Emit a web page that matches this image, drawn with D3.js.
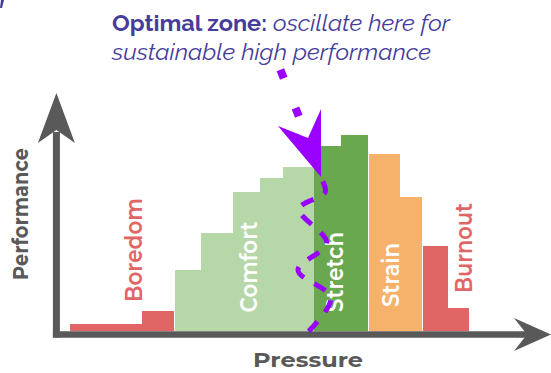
<!DOCTYPE html>
<html>
<head>
<meta charset="utf-8">
<script src="https://cdn.jsdelivr.net/npm/d3@7"></script>
<style>
  html, body { margin: 0; padding: 0; background: #fff; }
  svg { display: block; }
</style>
</head>
<body>
<svg id="chart" width="551" height="373"></svg>
<script>
// ---------------- DATA ----------------
const zones = ["Boredom","Boredom","Comfort","Comfort","Comfort","Comfort","Comfort",
               "Stretch","Stretch","Strain","Strain","Burnout","Burnout"];
// pressure boundaries of the steps (n+1 edges)
const pressureEdges = [0, 18, 26.25, 32.75, 40.75, 47.5, 53.25, 61, 67.75, 74.75, 82.5, 88.25, 94.5, 99.75];
// performance level of each step
const performance = [3.5, 10, 30.5, 49, 69.5, 76.5, 82, 92.5, 98, 88.5, 67, 42.5, 11.5];

const zoneNames = ["Boredom", "Comfort", "Stretch", "Strain", "Burnout"];
const zoneColors = ["#e06666", "#b6d7a8", "#6aa84f", "#f6b26b", "#e06666"];

const axisTitles = ["Pressure", "Performance"];
const titleBold = "Optimal zone:";
const titleItalic1 = "oscillate here for";
const titleItalic2 = "sustainable high performance";

// annotation: dotted lead-in, arrowhead, oscillating dashed path (pressure, performance units)
const leadIn = [[52.6, 130.6], [58.75, 99.5]];
const arrowHead = [[62.75, 77], [52, 102.5], [59.5, 96.5], [62.75, 111]];
const oscillation = [[62.75, 76.5], [63.8, 69.5], [57.3, 61], [64.2, 44], [57, 30.5], [65.2, 16.5], [58.75, -2]];

// ---------------- LAYOUT ----------------
const svg = d3.select("#chart");
const x = d3.scaleLinear().domain([0, 100]).range([70, 470]);
const y = d3.scaleLinear().domain([0, 100]).range([331, 131]);
const gray = "#595959";
const purple = "#9900ff";
const titleColor = "#463c9c";
const labelFont = "Montserrat, 'Open Sans', 'DejaVu Sans', sans-serif";

const colorOf = d3.scaleOrdinal().domain(zoneNames).range(zoneColors);

// bars
const bars = performance.map((v, i) => {
  const x0 = x(pressureEdges[i]);
  let x1 = x(pressureEdges[i + 1]);
  const next = zones[i + 1];
  if (next && next !== zones[i] && !(zones[i] === "Comfort" && next === "Stretch")) x1 -= 1;
  return { zone: zones[i], x0, x1, v };
});

svg.append("g").selectAll("rect").data(bars).join("rect")
  .attr("x", d => d.x0)
  .attr("y", d => y(d.v))
  .attr("width", d => d.x1 - d.x0)
  .attr("height", d => y(0) - y(d.v))
  .attr("fill", d => colorOf(d.zone));

// zone labels (layout: baseline pressure, centre performance, text length, colour)
const labelLayout = {
  Boredom: { px: 18,    py: 40.5, len: 104, fill: "#e06666" },
  Comfort: { px: 46.75, py: 32,   len: 91,  fill: "#ffffff" },
  Stretch: { px: 68.25, py: 29.5, len: 80,  fill: "#ffffff" },
  Strain:  { px: 82.25, py: 28,   len: 64,  fill: "#ffffff" },
  Burnout: { px: 100.5, py: 41.5, len: 90,  fill: "#e06666" }
};
svg.append("g").selectAll("text").data(zoneNames).join("text")
  .attr("transform", d => `translate(${x(labelLayout[d].px)},${y(labelLayout[d].py)}) rotate(-90)`)
  .attr("text-anchor", "middle")
  .attr("font-family", labelFont)
  .attr("font-weight", 600)
  .attr("font-size", 24)
  .attr("fill", d => labelLayout[d].fill)
  .attr("textLength", d => labelLayout[d].len)
  .attr("lengthAdjust", "spacingAndGlyphs")
  .text(d => d);

// axes
const ax = svg.append("g");
const axX = x(-3.4), axY = y(-1.75);
ax.append("line").attr("x1", axX).attr("x2", axX).attr("y1", axY + 3).attr("y2", 132)
  .attr("stroke", gray).attr("stroke-width", 7);
ax.append("line").attr("x1", axX - 3.5).attr("x2", 528).attr("y1", axY).attr("y2", axY)
  .attr("stroke", gray).attr("stroke-width", 6.5);
ax.append("path")
  .attr("d", `M${axX},93 L${axX + 18.5},143 L${axX},130 L${axX - 18.5},143 Z`)
  .attr("fill", gray);
ax.append("path")
  .attr("d", `M551,${axY} L514,${axY - 16.5} L527,${axY} L514,${axY + 16.5} Z`)
  .attr("fill", gray);

// axis titles
svg.append("text")
  .attr("x", 308).attr("y", 367)
  .attr("text-anchor", "middle")
  .attr("font-family", labelFont).attr("font-weight", 700).attr("font-size", 20)
  .attr("fill", gray)
  .attr("textLength", 110).attr("lengthAdjust", "spacingAndGlyphs")
  .text(axisTitles[0]);
svg.append("text")
  .attr("transform", "translate(28,214) rotate(-90)")
  .attr("text-anchor", "middle")
  .attr("font-family", labelFont).attr("font-weight", 700).attr("font-size", 21)
  .attr("fill", gray)
  .attr("textLength", 132).attr("lengthAdjust", "spacingAndGlyphs")
  .text(axisTitles[1]);

// annotation
const line = d3.line().x(d => x(d[0])).y(d => y(d[1]));
svg.append("path")
  .attr("d", line(leadIn))
  .attr("fill", "none").attr("stroke", purple).attr("stroke-width", 8)
  .attr("stroke-dasharray", "9,32");
svg.append("path")
  .attr("d", line(arrowHead) + "Z")
  .attr("fill", purple);
svg.append("path")
  .attr("d", d3.line().x(d => x(d[0])).y(d => y(d[1])).curve(d3.curveCatmullRom)(oscillation))
  .attr("fill", "none").attr("stroke", purple).attr("stroke-width", 5)
  .attr("stroke-dasharray", "13,12").attr("stroke-dashoffset", -4);

// title
const tf = "Raleway, Lato, 'Open Sans', sans-serif";
svg.append("text").attr("x", 112).attr("y", 31)
  .attr("font-family", tf).attr("font-weight", 700).attr("font-size", 22)
  .attr("fill", titleColor)
  .attr("textLength", 155).attr("lengthAdjust", "spacingAndGlyphs")
  .text(titleBold);
svg.append("text").attr("x", 273).attr("y", 31)
  .attr("font-family", tf).attr("font-style", "italic").attr("font-weight", 400).attr("font-size", 22)
  .attr("fill", titleColor)
  .attr("textLength", 177).attr("lengthAdjust", "spacingAndGlyphs")
  .text(titleItalic1);
svg.append("text").attr("x", 112).attr("y", 60)
  .attr("font-family", tf).attr("font-style", "italic").attr("font-weight", 400).attr("font-size", 22)
  .attr("fill", titleColor)
  .attr("textLength", 319).attr("lengthAdjust", "spacingAndGlyphs")
  .text(titleItalic2);

// cropped fragment at the top-left corner
svg.append("path").attr("d", "M1,0 L4,0 L2,8 L0,8 Z").attr("fill", titleColor);
</script>
</body>
</html>
